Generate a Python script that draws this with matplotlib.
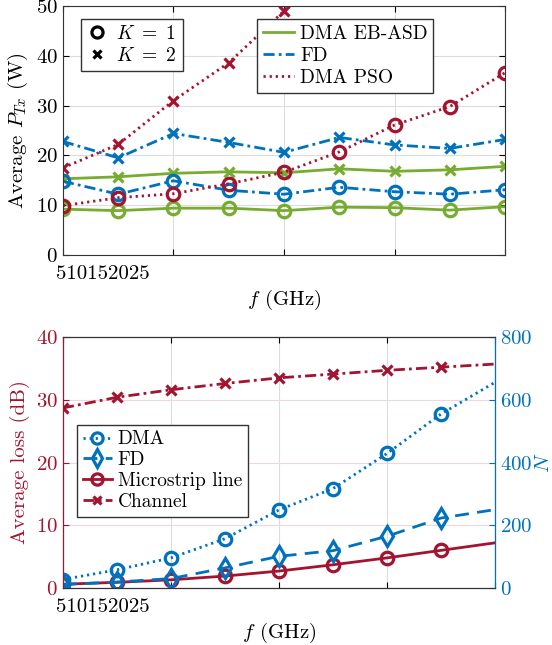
import numpy as np
import matplotlib
matplotlib.use('Agg')
import matplotlib.pyplot as plt
from matplotlib.lines import Line2D

plt.rcParams['font.family'] = ['cmr10', 'DejaVu Serif']
plt.rcParams['mathtext.fontset'] = 'cm'
plt.rcParams['axes.formatter.use_mathtext'] = True
plt.rcParams['font.size'] = 15

# colores estilo MATLAB
verde = '#77AC30'
azul = '#0072BD'
rojo = '#A2142F'

# datos (f en GHz)
f = [5, 10, 15, 20, 25, 30, 35, 40, 45]

# panel superior: potencia media (W)
eb_k1 = [9.2, 8.9, 9.4, 9.4, 8.9, 9.6, 9.5, 9.0, 9.7]
eb_k2 = [15.3, 15.7, 16.4, 16.7, 16.5, 17.3, 16.8, 17.1, 17.8]
fd_k1 = [14.8, 12.2, 14.9, 13.0, 12.2, 13.6, 12.7, 12.2, 13.1]
fd_k2 = [22.8, 19.5, 24.4, 22.6, 20.6, 23.6, 22.1, 21.4, 23.2]
pso_k1 = [9.9, 11.5, 12.3, 14.3, 16.6, 20.7, 26.1, 29.8, 36.6]
pso_k2 = [17.5, 22.2, 31.0, 38.6, 49.0, 63.0, 80.0, 100.0, 123.0]

# panel inferior: pérdidas (dB) y N
loss_dma_N = [27, 58, 96, 157, 249, 317, 429, 555, 656]
loss_fd_N = [11, 19, 30, 64, 101, 119, 165, 223, 250]
loss_micro = [0.6, 0.9, 1.3, 1.9, 2.7, 3.7, 4.8, 6.0, 7.2]
loss_canal = [28.7, 30.4, 31.6, 32.6, 33.5, 34.1, 34.7, 35.2, 35.7]

dashdot = (0, (4, 1.5, 1, 1.5))
punteado = (0, (0.8, 1.4))
guiones = (0, (5, 3))
lw = 2
ms = 9
mew = 2.3

fig = plt.figure(figsize=(5.52, 6.45), dpi=100)


def etiquetas_x(ax):
    ax.set_xticks([5, 15, 25, 35, 45])
    ax.set_xticklabels([])
    ax.annotate('510152025', xy=(0, 0), xycoords='axes fraction', xytext=(-5, -7),
                textcoords='offset points', ha='left', va='top')
    ax.set_xlabel('$f$ (GHz)', labelpad=20)


# ---------- panel superior ----------
ax1 = fig.add_axes([0.114, 0.6047, 0.801, 0.386])
ax1.plot(f, eb_k1, '-', color=verde, lw=lw, marker='o', ms=ms, mfc='none', mew=mew)
ax1.plot(f, eb_k2, '-', color=verde, lw=lw, marker='x', ms=7, mew=mew)
ax1.plot(f, fd_k1, linestyle=dashdot, color=azul, lw=lw, marker='o', ms=ms, mfc='none', mew=mew)
ax1.plot(f, fd_k2, linestyle=dashdot, color=azul, lw=lw, marker='x', ms=7, mew=mew)
ax1.plot(f, pso_k1, linestyle=punteado, color=rojo, lw=lw, marker='o', ms=ms, mfc='none', mew=mew)
ax1.plot(f, pso_k2, linestyle=punteado, color=rojo, lw=lw, marker='x', ms=7, mew=mew)
ax1.set_xlim(5, 45)
ax1.set_ylim(0, 50)
ax1.set_yticks([0, 10, 20, 30, 40, 50])
etiquetas_x(ax1)
ax1.set_ylabel('Average $P_{Tx}$ (W)')
ax1.grid(True, color='#dddddd', lw=0.8)
ax1.set_axisbelow(True)
ax1.tick_params(direction='in', length=4, top=True, right=True)
for s in ax1.spines.values():
    s.set_color('#333333')

leg_k = [Line2D([], [], color='k', ls='none', marker='o', ms=8, mfc='none', mew=mew, label=r'$K\ =\ 1$'),
         Line2D([], [], color='k', ls='none', marker='x', ms=6, mew=mew, label=r'$K\ =\ 2$')]
l1 = ax1.legend(handles=leg_k, loc='upper left', bbox_to_anchor=(0.02, 0.985), fancybox=False,
                edgecolor='#333333', framealpha=1, handlelength=1.0, handletextpad=0.5,
                borderpad=0.3, labelspacing=0.2, fontsize=14)
ax1.add_artist(l1)
leg_l = [Line2D([], [], color=verde, lw=lw, ls='-', label='DMA EB-ASD'),
         Line2D([], [], color=azul, lw=lw, ls=dashdot, label='FD'),
         Line2D([], [], color=rojo, lw=lw, ls=punteado, label='DMA PSO')]
ax1.legend(handles=leg_l, loc='upper right', bbox_to_anchor=(0.86, 0.985), fancybox=False,
           edgecolor='#333333', framealpha=1, handlelength=1.6, handletextpad=0.3,
           borderpad=0.3, labelspacing=0.2, fontsize=14)

# ---------- panel inferior ----------
ax2 = fig.add_axes([0.114, 0.0884, 0.783, 0.389])
ax3 = ax2.twinx()
mk = list(range(8))
h_micro, = ax2.plot(f, loss_micro, '-', color=rojo, lw=lw, marker='o', ms=ms, mfc='none', mew=mew,
                    markevery=mk, label='Microstrip line')
h_canal, = ax2.plot(f, loss_canal, linestyle=dashdot, color=rojo, lw=lw, marker='x', ms=7, mew=mew,
                    markevery=mk, label='Channel')
h_dma, = ax3.plot(f, loss_dma_N, linestyle=punteado, color=azul, lw=lw, marker='o', ms=ms, mfc='none',
                  mew=mew, markevery=mk, label='DMA')
h_fd, = ax3.plot(f, loss_fd_N, linestyle=guiones, color=azul, lw=lw, marker='d', ms=10, mfc='none',
                 mew=mew, markevery=mk, label='FD')
ax2.set_xlim(5, 45)
ax2.set_ylim(0, 40)
ax3.set_ylim(0, 800)
ax2.set_yticks([0, 10, 20, 30, 40])
ax3.set_yticks([0, 200, 400, 600, 800])
etiquetas_x(ax2)
ax2.set_ylabel('Average loss (dB)', color=rojo)
ax3.set_ylabel('$N$', color=azul, labelpad=2)
ax2.xaxis.grid(True, color='#dddddd', lw=0.8)
ax2.yaxis.grid(True, color='#f2d6dc', lw=0.8)
ax2.set_axisbelow(True)
ax2.tick_params(axis='y', colors=rojo, direction='in', length=4)
ax2.tick_params(axis='x', direction='in', length=4, top=True)
ax3.tick_params(axis='y', colors=azul, direction='in', length=4)
ax3.spines['left'].set_color(rojo)
ax3.spines['right'].set_color(azul)
ax3.spines['top'].set_color('#333333')
ax3.spines['bottom'].set_color('#333333')
ax3.legend(handles=[h_dma, h_fd, h_micro, h_canal], loc='upper left', bbox_to_anchor=(0.01, 0.69),
           fancybox=False, edgecolor='#333333', framealpha=1, handlelength=1.5, handletextpad=0.3,
           borderpad=0.3, labelspacing=0.15, markerscale=0.9, fontsize=14)

fig.savefig('out.png', dpi=100)
